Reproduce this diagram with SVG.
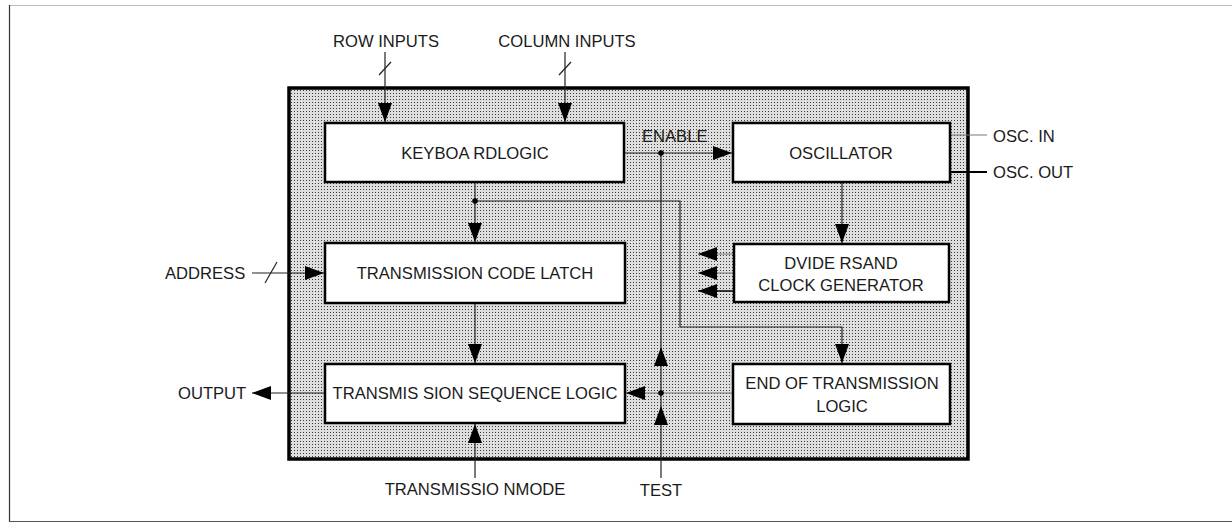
<svg xmlns="http://www.w3.org/2000/svg" width="1232" height="523" viewBox="0 0 1232 523">
<style>
text{font-family:"Liberation Sans",Arial,sans-serif;font-size:16.6px;fill:#1a1a1a}
.c{text-anchor:middle}
.blk{fill:#fff;stroke:#000;stroke-width:2.5}
.w{fill:none;stroke:#222;stroke-width:1.2}
.g{fill:none;stroke:#777;stroke-width:1.2}
.dot{fill:#000}
</style>
<defs>
<pattern id="stip" width="3" height="3" patternUnits="userSpaceOnUse">
<rect width="3" height="3" fill="#dedede"/>
<rect width="1" height="1" fill="#3a3a3a"/>
</pattern>
<marker id="ah" markerUnits="userSpaceOnUse" markerWidth="20" markerHeight="14" refX="19" refY="7" orient="auto" viewBox="0 0 20 14">
<path d="M0,0 L19,7 L0,14 z" fill="#000"/>
</marker>
</defs>
<g id="frame">
<line x1="9.5" y1="5.5" x2="1232" y2="5.5" stroke="#bbb" stroke-width="1"/>
<line x1="9.5" y1="5" x2="9.5" y2="522" stroke="#333" stroke-width="1.2"/>
<line x1="9" y1="521.5" x2="1232" y2="521.5" stroke="#555" stroke-width="1.2"/>
</g>
<g id="chip">
<rect x="289" y="88" width="679" height="371" fill="url(#stip)" stroke="#000" stroke-width="3.5"/>
</g>
<g id="connectors">
<line class="w" x1="385" y1="52" x2="385" y2="122" marker-end="url(#ah)"/>
<line class="w" x1="379" y1="75" x2="391" y2="62"/>
<line class="w" x1="565" y1="52" x2="565" y2="122" marker-end="url(#ah)"/>
<line class="w" x1="559" y1="75" x2="571" y2="62"/>
<line class="w" x1="624" y1="153" x2="732" y2="153" marker-end="url(#ah)"/>
<line class="w" x1="661" y1="153" x2="661" y2="347"/>
<line class="w" x1="661" y1="393" x2="661" y2="347" marker-end="url(#ah)"/>
<line class="w" x1="661" y1="478" x2="661" y2="406" marker-end="url(#ah)"/>
<line class="w" x1="661" y1="406" x2="661" y2="393"/>
<line class="g" x1="950" y1="135" x2="987" y2="135"/>
<line x1="950" y1="172" x2="987" y2="172" stroke="#000" stroke-width="1.8"/>
<line class="w" x1="842" y1="182" x2="842" y2="243" marker-end="url(#ah)"/>
<line class="g" x1="734" y1="254" x2="698" y2="254" marker-end="url(#ah)"/>
<line class="g" x1="734" y1="273" x2="698" y2="273" marker-end="url(#ah)"/>
<line x1="734" y1="291" x2="698" y2="291" stroke="#000" stroke-width="1.5" marker-end="url(#ah)"/>
<line class="w" x1="475" y1="182" x2="475" y2="242" marker-end="url(#ah)"/>
<polyline class="w" points="475,201 680,201 680,327 842,327 842,363" marker-end="url(#ah)"/>
<line class="w" x1="252" y1="273" x2="324" y2="273" marker-end="url(#ah)"/>
<line class="w" x1="265" y1="283" x2="277" y2="262"/>
<line class="w" x1="475" y1="303" x2="475" y2="363" marker-end="url(#ah)"/>
<line class="w" x1="325" y1="393" x2="252" y2="393" marker-end="url(#ah)"/>
<line class="w" x1="475" y1="478" x2="475" y2="424" marker-end="url(#ah)"/>
<line class="g" x1="733" y1="393" x2="626" y2="393" marker-end="url(#ah)"/>
<circle class="dot" cx="661" cy="153" r="2.8"/>
<circle class="dot" cx="661" cy="393" r="2.8"/>
<circle class="dot" cx="475" cy="201" r="2.8"/>
</g>
<g id="keyboard-logic">
<rect class="blk" x="325" y="123" width="299" height="59"/>
<text class="c" x="475" y="159">KEYBOA RDLOGIC</text>
</g>
<g id="oscillator">
<rect class="blk" x="733" y="123" width="217" height="59"/>
<text class="c" x="841" y="159">OSCILLATOR</text>
</g>
<g id="dividers">
<rect class="blk" x="734" y="244" width="215" height="58"/>
<text class="c" x="841" y="269">DVIDE RSAND</text>
<text class="c" x="841" y="291">CLOCK GENERATOR</text>
</g>
<g id="code-latch">
<rect class="blk" x="325" y="243" width="300" height="60"/>
<text class="c" x="475" y="279">TRANSMISSION CODE LATCH</text>
</g>
<g id="sequence-logic">
<rect class="blk" x="325" y="364" width="300" height="59"/>
<text class="c" x="475" y="399">TRANSMIS SION SEQUENCE LOGIC</text>
</g>
<g id="end-of-transmission">
<rect class="blk" x="733" y="364" width="217" height="60"/>
<text class="c" x="842" y="389">END OF TRANSMISSION</text>
<text class="c" x="842" y="412">LOGIC</text>
</g>
<g id="labels">
<text class="c" x="386" y="47">ROW INPUTS</text>
<text class="c" x="567" y="47">COLUMN INPUTS</text>
<text x="642" y="142">ENABLE</text>
<text x="993" y="142">OSC. IN</text>
<text x="993" y="178">OSC. OUT</text>
<text x="165" y="279">ADDRESS</text>
<text x="178" y="399">OUTPUT</text>
<text class="c" x="475" y="495">TRANSMISSIO NMODE</text>
<text class="c" x="661" y="496">TEST</text>
</g>
</svg>
